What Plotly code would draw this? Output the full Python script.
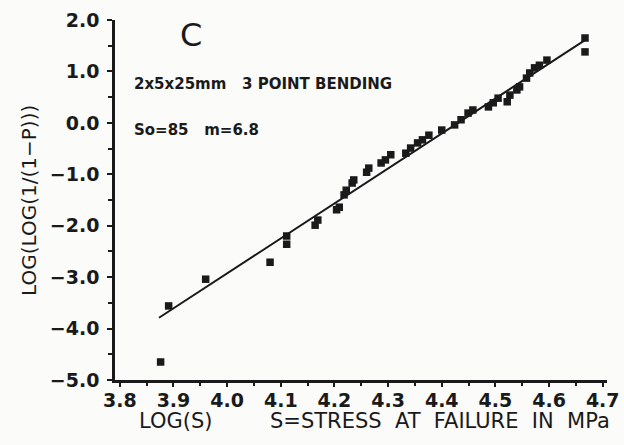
import plotly.graph_objects as go

# Data
log_s = [3.876, 3.891, 3.960, 4.080, 4.111, 4.111, 4.164, 4.169, 4.204, 4.209,
         4.218, 4.222, 4.233, 4.236, 4.260, 4.264, 4.287, 4.295, 4.305, 4.333,
         4.342, 4.355, 4.364, 4.376, 4.400, 4.424, 4.436, 4.449, 4.458, 4.487,
         4.496, 4.505, 4.522, 4.527, 4.540, 4.545, 4.558, 4.564, 4.573, 4.582,
         4.596, 4.667, 4.667]
log_log_p = [-4.65, -3.56, -3.04, -2.71, -2.36, -2.20, -1.99, -1.89, -1.69, -1.64,
             -1.40, -1.31, -1.17, -1.11, -0.96, -0.88, -0.78, -0.72, -0.62, -0.59,
             -0.49, -0.39, -0.33, -0.24, -0.14, -0.04, 0.06, 0.19, 0.25, 0.31,
             0.39, 0.48, 0.41, 0.54, 0.64, 0.70, 0.87, 0.97, 1.07, 1.12,
             1.22, 1.65, 1.38]
fit_x = [3.873, 4.667]
fit_y = [-3.79, 1.61]

FONT = "DejaVu Sans"
INK = "#1a1a1a"

fig = go.Figure()
fig.add_trace(go.Scatter(x=fit_x, y=fit_y, mode="lines",
                         line=dict(color=INK, width=2), showlegend=False))
fig.add_trace(go.Scatter(x=log_s, y=log_log_p, mode="markers",
                         marker=dict(symbol="square", size=7.5, color=INK),
                         showlegend=False))

tickfont = dict(family=FONT, size=19, color=INK, weight="bold")

fig.update_xaxes(range=[3.791, 4.708], tickmode="linear", tick0=3.8, dtick=0.1,
                 tickformat=".1f", ticklabeloverflow="allow",
                 ticks="outside", ticklen=4, tickwidth=2, tickcolor=INK,
                 minor=dict(tickmode="linear", tick0=3.8, dtick=0.05,
                            ticks="outside", ticklen=3, tickwidth=2,
                            tickcolor=INK),
                 showline=True, linecolor=INK, linewidth=2.5,
                 showgrid=False, zeroline=False, ticklabelstandoff=-3,
                 tickfont=tickfont)
fig.update_yaxes(range=[-5, 2], tickmode="linear", tick0=0, dtick=1,
                 tickformat=".1f", ticklabeloverflow="allow",
                 ticks="outside", ticklen=5, tickwidth=2, tickcolor=INK,
                 minor=dict(tickmode="linear", tick0=0, dtick=0.5,
                            ticks="outside", ticklen=4, tickwidth=2,
                            tickcolor=INK),
                 showline=True, linecolor=INK, linewidth=2.5,
                 showgrid=False, zeroline=False, ticklabelstandoff=4,
                 tickfont=tickfont)

# axis title (left, rotated)
fig.add_annotation(x=-0.175, y=0.5, xref="paper", yref="paper",
                   text="LOG(LOG(1/(1\u2212P)))", textangle=-90,
                   showarrow=False, xanchor="center", yanchor="middle",
                   font=dict(family=FONT, size=20, color=INK))
fig.add_annotation(x=0.155, y=1.017, xref="paper", yref="paper", text="C",
                   showarrow=False, xanchor="center", yanchor="top",
                   font=dict(family=FONT, size=32, color=INK))
fig.add_annotation(x=0.034, y=0.822, xref="paper", yref="paper",
                   text="2x5x25mm&nbsp;&nbsp;&nbsp;3 POINT BENDING",
                   showarrow=False, xanchor="left", yanchor="middle",
                   font=dict(family=FONT, size=15, color=INK, weight="bold"))
fig.add_annotation(x=0.034, y=0.695, xref="paper", yref="paper",
                   text="So=85&nbsp;&nbsp;&nbsp;m=6.8",
                   showarrow=False, xanchor="left", yanchor="middle",
                   font=dict(family=FONT, size=15, color=INK, weight="bold"))
fig.add_annotation(x=0.045, y=-0.076, xref="paper", yref="paper", text="LOG(S)",
                   showarrow=False, xanchor="left", yanchor="top",
                   font=dict(family=FONT, size=21, color=INK))
fig.add_annotation(x=1.01, y=-0.076, xref="paper", yref="paper",
                   text="S=STRESS&nbsp;&nbsp;AT&nbsp;&nbsp;FAILURE&nbsp;&nbsp;IN&nbsp;&nbsp;MPa",
                   showarrow=False, xanchor="right", yanchor="top",
                   font=dict(family=FONT, size=21, color=INK))

fig.update_layout(width=624, height=445,
                  margin=dict(l=115, r=5, t=20, b=65),
                  paper_bgcolor="#fbfbf9", plot_bgcolor="#fbfbf9",
                  showlegend=False)

fig.write_html("out.html")
